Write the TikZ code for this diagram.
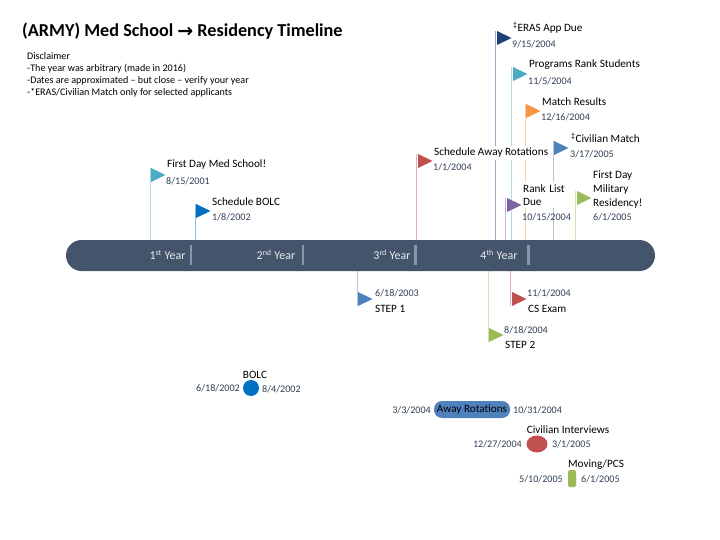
\documentclass[tikz,border=0pt]{standalone}
\usepackage{fontspec}
\usetikzlibrary{shapes.geometric}
\setmainfont{Carlito}
\newfontfamily\arrowfont{DejaVu Sans}
\definecolor{barc}{HTML}{44546A}
\definecolor{datec}{HTML}{2F3F55}
\definecolor{sepc}{HTML}{8496B0}
\definecolor{navyf}{HTML}{1F3F77}
\definecolor{tealf}{HTML}{4BACC6}
\definecolor{orangef}{HTML}{F79646}
\definecolor{bluef}{HTML}{4F81BD}
\definecolor{purplef}{HTML}{8064A2}
\definecolor{redf}{HTML}{C0504D}
\definecolor{greenf}{HTML}{9BBB59}
\definecolor{royalf}{HTML}{0070C0}
\tikzset{
  x=1pt,y=-1pt,
  txt/.style={anchor=west,inner sep=0pt,font=\fontsize{11.2}{13.6}\selectfont,text=black},
  mask/.style={fill=white,inner ysep=2pt,inner xsep=1pt},
  datelbl/.style={anchor=west,inner sep=0pt,font=\fontsize{10.1}{12}\selectfont,text=datec},
  sepbar/.style={draw=sepc,line width=2.6pt},
  pole/.style={line width=0.9pt},
  yearlbl/.style={anchor=center,inner sep=0pt,text=white!88!barc,font=\fontsize{12}{14}\selectfont},
  durlbl/.style={anchor=center,inner sep=0pt,font=\fontsize{11.2}{13}\selectfont}
}
\newcommand{\flagmark}[5]{%
  \coordinate (#1-a) at (#2,#3);
  \coordinate (#1-b) at (#2,#4);
  \draw[pole,draw=#5!45!white] (#1-a) -- (#1-b);
}
\newcommand{\flagtip}[4]{%
  \coordinate (#1-t) at (#2,#3);
  \fill[#4] (#1-t) -- ++(14.5,7) -- ++(-14.5,7) -- cycle;
}
\begin{document}
\begin{tikzpicture}
\useasboundingbox (0,0) rectangle (720,540);
% poles above
\flagmark{fa}{150}{168}{240}{tealf}
\flagmark{fb}{195}{204}{240}{royalf}
\flagmark{fc}{495.5}{31}{240}{navyf}
\flagmark{fd}{511}{67}{240}{tealf}
\flagmark{fe}{525}{104}{240}{orangef}
\flagmark{ff}{553}{141}{240}{bluef}
\flagmark{fg}{505.5}{198}{240}{purplef}
\flagmark{fh}{575.5}{191}{240}{greenf}
\flagmark{fi}{416}{154}{240}{redf}
% poles below
\flagmark{fj}{357}{271}{306}{bluef}
\flagmark{fk}{488}{271}{342}{greenf}
\flagmark{fl}{510.5}{271}{306}{redf}
% bar
\fill[barc,rounded corners=15.5pt] (66,240) rectangle (655,271);
\foreach \sx/\sn in {191/s1,303/s2,415.5/s3,528.5/s4}{
  \coordinate (\sn-a) at (\sx,245);
  \coordinate (\sn-b) at (\sx,265);
  \draw[sepbar] (\sn-a) -- (\sn-b);
}
\node[yearlbl] (y1) at (167.5,255) {1\textsuperscript{st} Year};
\node[yearlbl] (y2) at (276,255) {2\textsuperscript{nd} Year};
\node[yearlbl] (y3) at (392,255) {3\textsuperscript{rd} Year};
\node[yearlbl] (y4) at (499,255) {4\textsuperscript{th} Year};
% flags
\flagtip{ta}{151}{168}{tealf}
\flagtip{tb}{196}{204}{royalf}
\flagtip{tc}{497}{31}{navyf}
\flagtip{td}{513}{67}{tealf}
\flagtip{te}{526}{104}{orangef}
\flagtip{tf}{554}{141}{bluef}
\flagtip{tg}{507}{198}{purplef}
\flagtip{th}{577}{191}{greenf}
\flagtip{ti}{418}{154}{redf}
\flagtip{tj}{358}{292}{bluef}
\flagtip{tk}{489}{328}{greenf}
\flagtip{tl}{512}{292}{redf}
% title & disclaimer
\node[anchor=base west,inner sep=0pt,font=\fontsize{18.2}{21}\selectfont\bfseries] (title) at (22,37) {(ARMY) Med School {\arrowfont\fontsize{19}{21}\selectfont\bfseries\raisebox{-1pt}{→}} Residency Timeline};
\node[anchor=north west,inner sep=0pt,align=left,font=\fontsize{10.1}{12.2}\selectfont] (disc) at (27,52) {Disclaimer\\-The year was arbitrary (made in 2016)\\-Dates are approximated -- but close -- verify your year\\-*ERAS/Civilian Match only for selected applicants};
% labels top
\node[txt] (l1) at (167,165) {First Day Med School!};
\node[datelbl] (d1) at (166,181) {8/15/2001};
\node[txt] (l2) at (212,202) {Schedule BOLC};
\node[datelbl] (d2) at (212,217) {1/8/2002};
\node[txt] (l3) at (513,28) {\textsuperscript{‡}ERAS App Due};
\node[datelbl] (d3) at (512,44) {9/15/2004};
\node[txt] (l4) at (529,65) {Programs Rank Students};
\node[datelbl] (d4) at (528,81) {11/5/2004};
\node[txt] (l5) at (542,102) {Match Results};
\node[datelbl] (d5) at (541,117) {12/16/2004};
\node[txt] (l6) at (571,138) {\textsuperscript{‡}Civilian Match};
\node[datelbl] (d6) at (570,154) {3/17/2005};
\node[txt,mask] (l7) at (433,153) {Schedule Away Rotations};
\node[datelbl] (d7) at (433,167) {1/1/2004};
\node[txt,align=left,mask,text width=44pt] (l8) at (522,195) {Rank List\\Due};
\node[datelbl] (d8) at (522,217) {10/15/2004};
\node[txt,align=left] (l9) at (593,189.5) {First Day\\Military\\Residency!};
\node[datelbl] (d9) at (593,217) {6/1/2005};
% labels below
\node[datelbl] (d10) at (375,293) {6/18/2003};
\node[txt] (l10) at (375,309) {STEP 1};
\node[datelbl] (d11) at (527,293) {11/1/2004};
\node[txt] (l11) at (528,309) {CS Exam};
\node[datelbl] (d12) at (504,330) {8/18/2004};
\node[txt] (l12) at (505,345) {STEP 2};
% duration shapes
\node[circle,fill=royalf,minimum size=16pt,inner sep=0pt] (bolc) at (251,388) {};
\node[durlbl] (l13) at (255,375) {BOLC};
\node[datelbl,anchor=east] (d13) at (240,388) {6/18/2002};
\node[datelbl] (d14) at (262,389) {8/4/2002};
\node[rounded corners=8pt,fill=bluef,minimum width=76pt,minimum height=17pt,inner sep=0pt,font=\fontsize{11.2}{13}\selectfont] (away) at (472,409.5) {Away Rotations};
\node[datelbl,anchor=east] (d15) at (431,410) {3/3/2004};
\node[datelbl] (d16) at (513,410) {10/31/2004};
\node[ellipse,fill=redf,minimum width=21pt,minimum height=17pt,inner sep=0pt] (civ) at (537,444) {};
\node[durlbl] (l15) at (568,430) {Civilian Interviews};
\node[datelbl,anchor=east] (d17) at (522,444) {12/27/2004};
\node[datelbl] (d18) at (552,444) {3/1/2005};
\node[rounded corners=2pt,fill=greenf,minimum width=8pt,minimum height=17pt,inner sep=0pt] (pcs) at (572,478.5) {};
\node[durlbl] (l16) at (596,465) {Moving/PCS};
\node[datelbl,anchor=east] (d19) at (563,479) {5/10/2005};
\node[datelbl] (d20) at (581,479) {6/1/2005};
\end{tikzpicture}
\end{document}
